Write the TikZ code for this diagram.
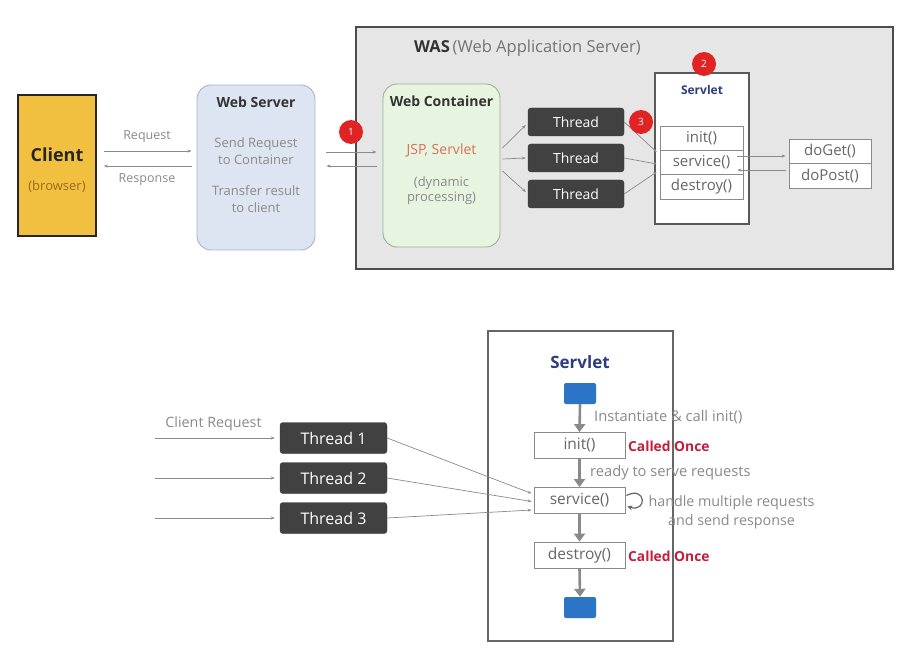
\documentclass[tikz,border=0pt]{standalone}
\usepackage{fontspec}
\setmainfont{Open Sans}
\usetikzlibrary{arrows.meta}
\definecolor{clientY}{HTML}{F2C040}
\definecolor{wsFill}{HTML}{DDE4F2}
\definecolor{wsLine}{HTML}{A9B5CC}
\definecolor{wcFill}{HTML}{E7F4DF}
\definecolor{wcLine}{HTML}{9DB08E}
\definecolor{wasFill}{HTML}{E6E6E6}
\definecolor{thrFill}{HTML}{414141}
\definecolor{badgeRed}{HTML}{E02424}
\definecolor{navy}{HTML}{2F3C7E}
\definecolor{blueSq}{HTML}{2B74C6}
\definecolor{onceRed}{HTML}{C41E3A}
\definecolor{jspRed}{HTML}{D9705A}
\definecolor{txtGray}{HTML}{8A8A8A}
\definecolor{lineGray}{HTML}{8A8A8A}
\definecolor{browserC}{HTML}{9A6A1A}
\newcommand{\fs}[1]{\fontsize{#1}{#1}\selectfont}
\tikzset{
  thin arr/.style={draw=lineGray, line width=0.7pt, -{Stealth[length=4pt,width=3pt]}},
  thinline/.style={draw=lineGray, line width=0.7pt, -{Stealth[length=3pt,width=3pt,open]}},
  flow arr/.style={draw=lineGray, line width=2.6pt, -{Triangle[length=8pt,width=11pt]}},
  threadbox/.style={fill=thrFill, draw=thrFill!80!black, rounded corners=3pt, text=white, inner sep=0pt},
  badge/.style={circle, fill=badgeRed, text=white, inner sep=0pt, minimum size=24pt, font=\fs{10}},
  methodbox/.style={draw=lineGray, line width=0.8pt, fill=white, inner sep=0pt, text=black!60},
  graytxt/.style={text=txtGray, inner sep=0pt},
}
\begin{document}
\begin{tikzpicture}[x=1pt,y=-1pt]
\useasboundingbox (0,0) rectangle (922,666);
\fill[white] (0,0) rectangle (922,666);

% ---------------- top part ----------------
\node[draw=black!85, line width=1.6pt, fill=clientY, minimum width=78pt, minimum height=141pt, inner sep=0pt] (client) at (57,165.5) {};
\node[font=\bfseries\fs{18}, text=black!85, inner sep=0pt] (clientT) at (57,155) {Client};
\node[font=\fs{13}, text=browserC, inner sep=0pt] (browserT) at (57,187) {(browser)};

\node[draw=wsLine, line width=0.9pt, fill=wsFill, rounded corners=14pt, minimum width=118pt, minimum height=165pt, inner sep=0pt] (ws) at (256,167.5) {};
\node[font=\bfseries\fs{14}, text=black!80, inner sep=0pt] (wsT) at (256,102) {Web Server};
\node[graytxt, font=\fs{13}, align=center] (wsT1) at (256,151.5) {Send Request\\[4pt]to Container};
\node[graytxt, font=\fs{13}, align=center] (wsT2) at (256,199.5) {Transfer result\\[4pt]to client};

\draw[thin arr] ([shift={(7,-14.5)}]client.east) -- ([shift={(-5,-16.5)}]ws.west);
\draw[thin arr] ([shift={(-5,-1.5)}]ws.west) -- ([shift={(7,0.5)}]client.east);
\node[graytxt, font=\fs{12.5}] (reqT) at (147,137) {Request};
\node[graytxt, font=\fs{12.5}] (respT) at (147,180) {Response};

\node[draw=black!70, line width=1.6pt, fill=wasFill, minimum width=537pt, minimum height=242pt, inner sep=0pt] (was) at (624.5,148) {};
\node[anchor=west, inner sep=0pt, font=\fs{16.5}] (wasT) at (414,48) {\textbf{\color{black!80}WAS}\,{\color{black!55}(Web Application Server)}};

\node[draw=wcLine, line width=0.9pt, fill=wcFill, rounded corners=14pt, minimum width=117pt, minimum height=163pt, inner sep=0pt] (wc) at (441.5,165.5) {};
\node[font=\bfseries\fs{14}, text=black!80, inner sep=0pt] (wcT) at (441.5,101) {Web Container};
\node[font=\fs{14}, text=jspRed, inner sep=0pt] (jspT) at (441.5,150) {JSP, Servlet};
\node[graytxt, font=\fs{13}, align=center] (dynT) at (441.5,191) {(dynamic\\[2pt]processing)};

\draw[thin arr] ([shift={(11,-15.5)}]ws.east) -- ([shift={(-6,-13.5)}]wc.west);
\draw[thin arr] ([shift={(-6,0.5)}]wc.west) -- ([shift={(11,-1.5)}]ws.east);

\node[threadbox, minimum width=96pt, minimum height=28pt, font=\fs{14}] (t1) at (576,122) {Thread};
\node[threadbox, minimum width=96pt, minimum height=28pt, font=\fs{14}] (t2) at (576,158) {Thread};
\node[threadbox, minimum width=96pt, minimum height=28pt, font=\fs{14}] (t3) at (576,194) {Thread};

\draw[thin arr] ([shift={(2,-17.5)}]wc.east) -- ([shift={(-2,3)}]t1.west);
\draw[thin arr] ([shift={(2,-6.5)}]wc.east) -- ([shift={(-2,0)}]t2.west);
\draw[thin arr] ([shift={(2,5.5)}]wc.east) -- ([shift={(-2,-2)}]t3.west);

\node[draw=black!65, line width=1.1pt, fill=white, minimum width=94pt, minimum height=151pt, inner sep=0pt] (sv) at (702,148.5) {};
\node[font=\bfseries\fs{12}, text=navy, inner sep=0pt] (svT) at (702,90) {Servlet};
\node[methodbox, minimum width=83pt, minimum height=24pt, font=\fs{15}] (init) at (701.5,138) {init()};
\node[methodbox, minimum width=83pt, minimum height=24pt, font=\fs{15}] (svc) at (701.5,162) {service()};
\node[methodbox, minimum width=83pt, minimum height=25pt, font=\fs{15}] (dst) at (701.5,186.5) {destroy()};

\draw[thinline] (t1.east) -- ([shift={(-3,-10)}]svc.west);
\draw[thinline] (t2.east) -- ([shift={(-3,2)}]svc.west);
\draw[thinline] (t3.east) -- ([shift={(-3,10)}]svc.west);

\node[methodbox, minimum width=82pt, minimum height=24pt, font=\fs{15}] (dg) at (830,151) {doGet()};
\node[methodbox, minimum width=82pt, minimum height=25pt, font=\fs{15}] (dp) at (830,175.5) {doPost()};
\draw[thin arr] ([shift={(-6,-6)}]svc.east) -- ([shift={(-3,5)}]dg.west);
\draw[thin arr] ([shift={(-3,-5.5)}]dp.west) -- ([shift={(-6,8)}]svc.east);

\node[badge] (b1) at (351,132) {1};
\node[badge] (b2) at (704,64) {2};
\node[badge] (b3) at (641,122) {3};

% ---------------- bottom part ----------------
\node[draw=black!60, line width=1.2pt, fill=white, minimum width=185pt, minimum height=310pt, inner sep=0pt] (bsv) at (580.5,486) {};
\node[font=\bfseries\fs{17}, text=navy, inner sep=0pt] (bsvT) at (580,362) {Servlet};

\node[fill=blueSq, rounded corners=2pt, minimum width=32pt, minimum height=21pt, inner sep=0pt] (start) at (580,393.5) {};
\node[methodbox, minimum width=91pt, minimum height=26pt, font=\fs{15.5}] (binit) at (579.5,445.5) {init()};
\node[methodbox, minimum width=91pt, minimum height=26pt, font=\fs{15.5}] (bsvc) at (579.5,500.5) {service()};
\node[methodbox, minimum width=91pt, minimum height=26pt, font=\fs{15.5}] (bdst) at (579.5,555) {destroy()};
\node[fill=blueSq, rounded corners=2pt, minimum width=32pt, minimum height=21pt, inner sep=0pt] (stop) at (580,607.5) {};

\draw[flow arr] (start.south) -- (binit.north);
\draw[flow arr] (binit.south) -- (bsvc.north);
\draw[flow arr] (bsvc.south) -- (bdst.north);
\draw[flow arr] (bdst.south) -- (stop.north);

\node[graytxt, anchor=west, font=\fs{14.7}] (instT) at (594,417) {Instantiate \& call init()};
\node[graytxt, anchor=west, font=\fs{14.7}] (readyT) at (590,473) {ready to serve requests};
\node[anchor=west, inner sep=0pt, text=onceRed, font=\bfseries\fs{13.8}] (once1) at (628,446.5) {Called Once};
\node[anchor=west, inner sep=0pt, text=onceRed, font=\bfseries\fs{13.8}] (once2) at (628,556) {Called Once};
\node[graytxt, align=center, font=\fontsize{14.3}{19}\selectfont] (handleT) at (731.5,512.5) {handle multiple requests\\and send response};

\draw[draw=black!60, line width=1.2pt, -{Stealth[length=5pt,width=5pt]}]
  ([shift={(1,-5)}]bsvc.east) .. controls +(20,-10) and +(20,6) .. ([shift={(2,6)}]bsvc.east);

\node[threadbox, minimum width=107pt, minimum height=31pt, font=\fs{16}] (bt1) at (333.5,438) {Thread 1};
\node[threadbox, minimum width=107pt, minimum height=31pt, font=\fs{16}] (bt2) at (333.5,478) {Thread 2};
\node[threadbox, minimum width=107pt, minimum height=31pt, font=\fs{16}] (bt3) at (333.5,518) {Thread 3};

\coordinate (in1) at (155,438);
\coordinate (in2) at (155,478);
\coordinate (in3) at (155,518);
\draw[thin arr] (in1) -- ([shift={(-5,0)}]bt1.west);
\draw[thin arr] (in2) -- ([shift={(-5,0)}]bt2.west);
\draw[thin arr] (in3) -- ([shift={(-5,0)}]bt3.west);
\node[graytxt, font=\fs{14.3}] (crT) at (213.5,424) {Client Request};

\draw[thin arr] (bt1.east) -- ([shift={(-2,-7)}]bsvc.west);
\draw[thin arr] (bt2.east) -- ([shift={(-2,1)}]bsvc.west);
\draw[thin arr] (bt3.east) -- ([shift={(-2,9.5)}]bsvc.west);
\end{tikzpicture}
\end{document}
